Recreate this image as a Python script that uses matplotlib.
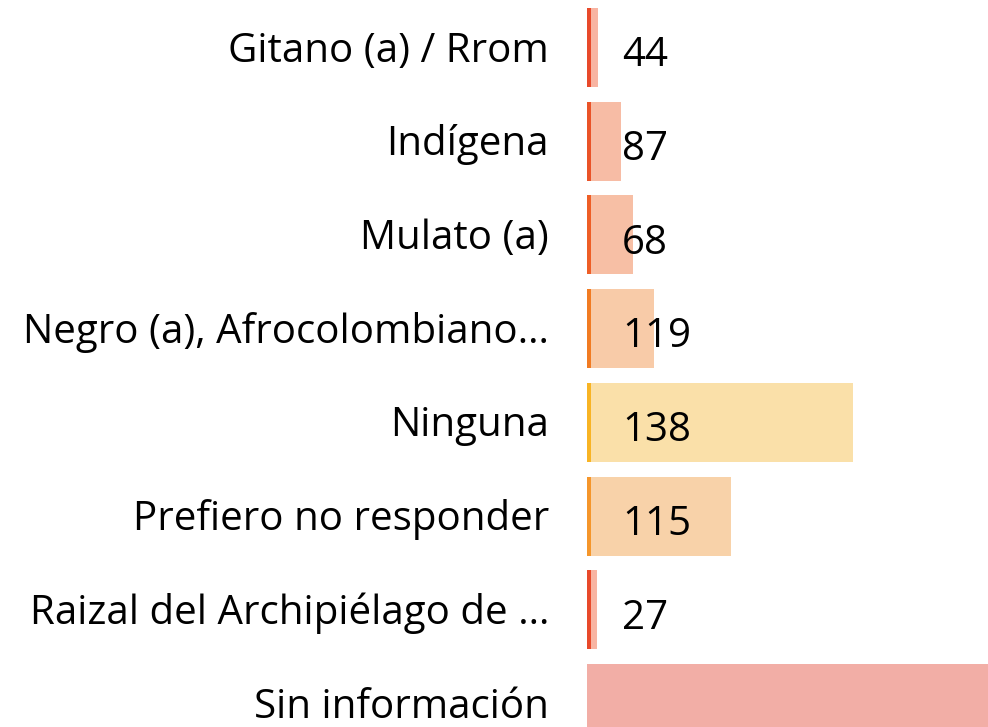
import matplotlib.pyplot as plt

# categories (top to bottom)
categories = [
    "Gitano (a) / Rrom",
    "Indígena",
    "Mulato (a)",
    "Negro (a), Afrocolombiano…",
    "Ninguna",
    "Prefiero no responder",
    "Raizal del Archipiélago de …",
    "Sin información",
]
# printed values (None = no label shown)
value_labels = [44, 87, 68, 119, 138, 115, 27, None]
# bar lengths as drawn (share of the visible axis, %)
bar_len = [2.7, 8.5, 11.5, 16.7, 66.3, 35.9, 2.5, 110.0]

fill_colors = ["#F8B4A2", "#F7BCA5", "#F7BFA5", "#F8CBA8", "#FAE0A9",
               "#F8D2A9", "#F8B4A2", "#F2AEA6"]
edge_colors = ["#E8492A", "#EA5328", "#EE5E26", "#F17B22", "#F8B424",
               "#F5962B", "#E8492A", None]

plt.rcParams['font.family'] = ['Open Sans', 'DejaVu Sans']

fig = plt.figure(figsize=(9.88, 7.27), dpi=100)
ax = fig.add_axes([587 / 988, 0, 401 / 988, 1])

ypos = list(range(len(categories)))
bar_h = 0.843
ax.barh(ypos, bar_len, height=bar_h, color=fill_colors, linewidth=0)

# darker stripe on the left side of each bar
stripe_w = 4 / 401 * 100
for y, ec in zip(ypos, edge_colors):
    if ec is not None:
        ax.barh(y, stripe_w, height=bar_h, color=ec, linewidth=0)

ax.set_xlim(0, 100)
ax.set_ylim(7.25, -0.507)
ax.axis('off')

# value labels
label_x = (622 - 587) / 401 * 100
for y, v in zip(ypos, value_labels):
    if v is not None:
        ax.text(label_x, y + 0.2, str(v), fontsize=29, color="black",
                ha='left', va='baseline', clip_on=False)

# category labels
trans = ax.get_yaxis_transform()
for y, c in zip(ypos, categories):
    ax.text((549 - 587) / 401, y + 0.15, c, transform=trans, fontsize=29,
            color="black", ha='right', va='baseline', clip_on=False)

fig.savefig("out.png", dpi=100)
